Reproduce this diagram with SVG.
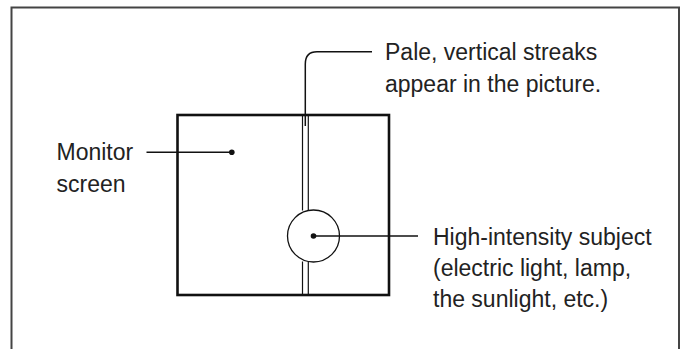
<svg xmlns="http://www.w3.org/2000/svg" width="685" height="349" viewBox="0 0 685 349">
<style>
.t{font-family:"Liberation Sans",Arial,sans-serif;font-size:23px;fill:#222}
.ln{fill:none;stroke:#111;stroke-width:1.5}
.thin{fill:none;stroke:#111;stroke-width:1.2}
.dot{fill:#111}
</style>
<rect width="685" height="349" fill="#fff"/>
<g id="frame">
<path d="M11.5,349 V7.5 H679 V349" fill="none" stroke="#444" stroke-width="2"/>
</g>
<g id="monitor">
<line class="thin" x1="302.5" y1="115" x2="302.5" y2="210.5"/>
<line class="thin" x1="308.3" y1="115" x2="308.3" y2="210.5"/>
<line class="thin" x1="302.5" y1="261.5" x2="302.5" y2="295"/>
<line class="thin" x1="308.3" y1="261.5" x2="308.3" y2="295"/>
<rect x="177.5" y="115" width="211.5" height="180" fill="none" stroke="#111" stroke-width="2.6"/>
</g>
<g id="subject">
<circle cx="313.5" cy="236" r="26" fill="#fff" stroke="#111" stroke-width="1.3"/>
</g>
<g id="connectors">
<path class="ln" d="M305.3,126 V64 Q305.3,51.7 317,51.7 H372"/>
<line class="ln" x1="146.5" y1="152.3" x2="231.5" y2="152.3"/>
<circle class="dot" cx="231.8" cy="152.3" r="2.8"/>
<line class="ln" x1="313.5" y1="236" x2="418" y2="236"/>
<circle class="dot" cx="313.5" cy="236" r="2.8"/>
</g>
<g id="label-streaks">
<text class="t" x="385" y="59.5">Pale, vertical streaks</text>
<text class="t" x="385" y="91.5">appear in the picture.</text>
</g>
<g id="label-monitor">
<text class="t" x="56.5" y="160">Monitor</text>
<text class="t" x="56.5" y="191.5">screen</text>
</g>
<g id="label-subject">
<text class="t" x="433" y="245">High-intensity subject</text>
<text class="t" x="433" y="276">(electric light, lamp,</text>
<text class="t" x="433" y="306.5">the sunlight, etc.)</text>
</g>
</svg>
